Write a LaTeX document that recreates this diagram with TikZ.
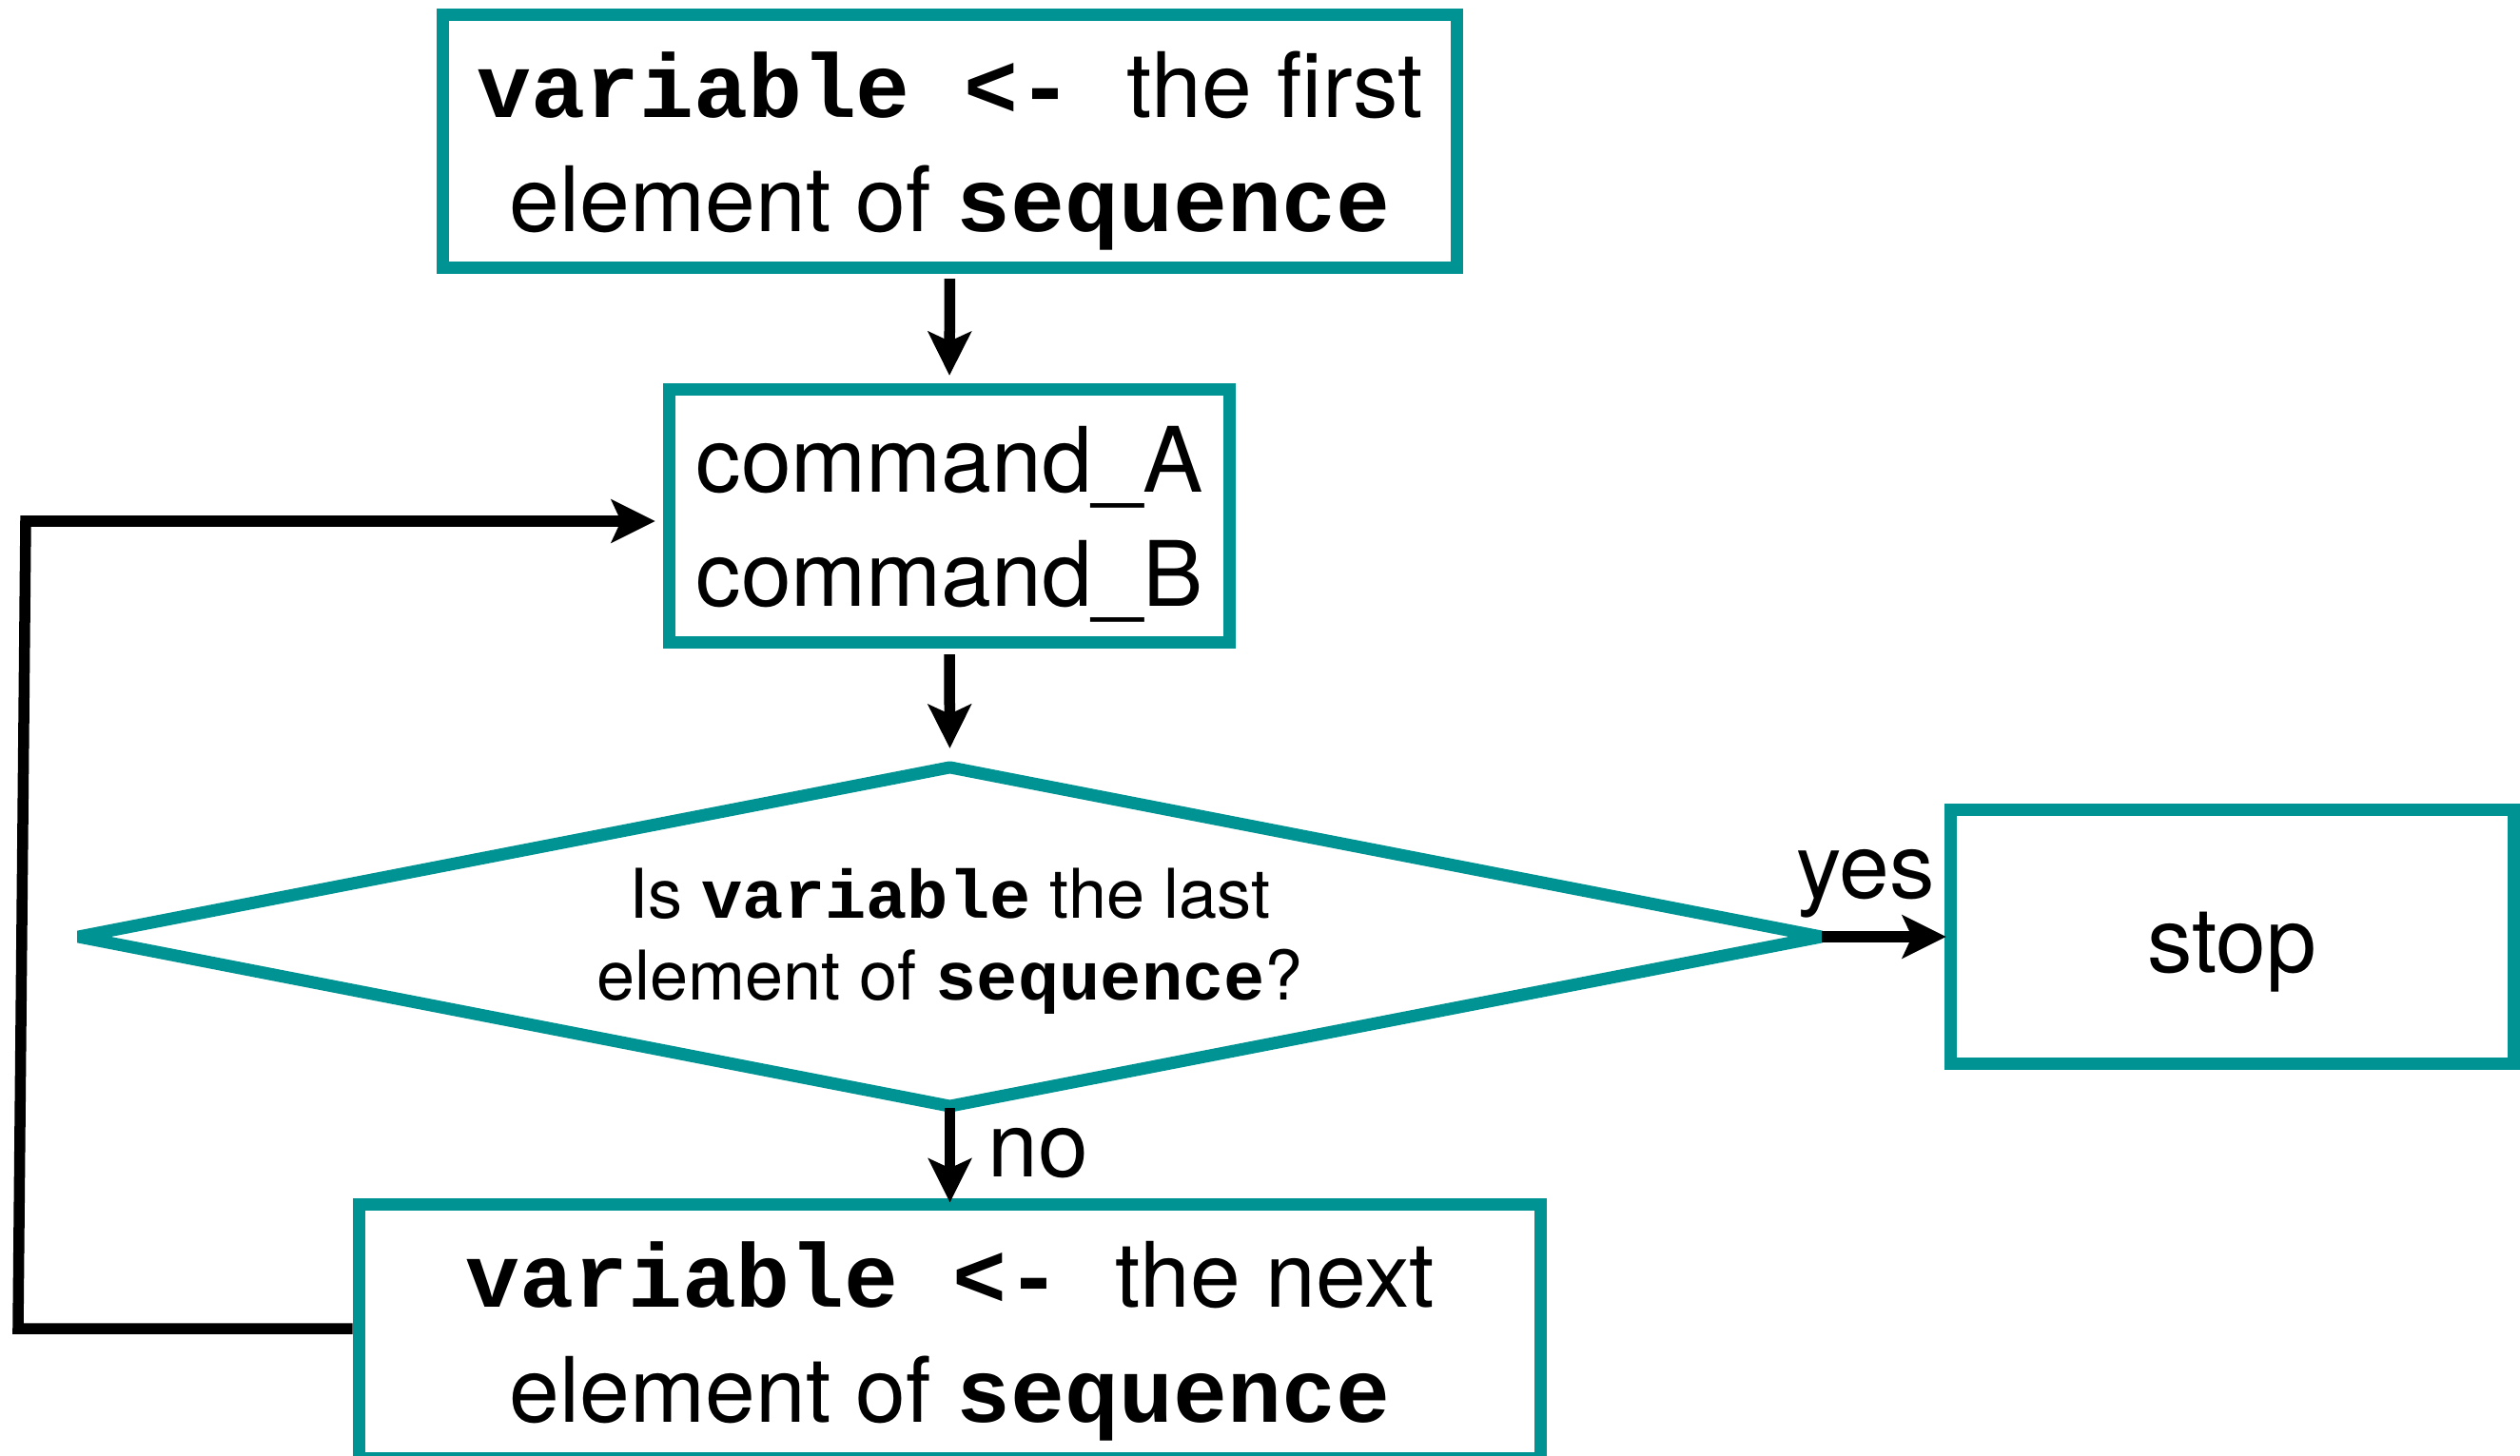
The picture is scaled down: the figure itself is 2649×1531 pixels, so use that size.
\documentclass[tikz,border=0pt]{standalone}
\usepackage{fontspec}
\setmainfont{TeX Gyre Heros}
\setmonofont{Liberation Mono}
\usetikzlibrary{arrows.meta,shapes.geometric}
\definecolor{flowteal}{RGB}{0,147,147}
% bold code words inside the flowchart text
\newcommand{\kw}[1]{{\ttfamily\bfseries #1}}
% struts that fix the vertical placement of two-line texts
\newcommand{\topline}{\rule{0pt}{1cm}}
\newcommand{\botline}{\rule[-0.3cm]{0pt}{0.3cm}}

\begin{document}
\begin{tikzpicture}[x=0.01cm,y=-0.01cm,
  box/.style={rectangle, draw=flowteal, line width=0.13cm, fill=white,
    inner sep=0pt, outer sep=0.065cm, minimum height=2.66cm, align=center,
    font=\fontsize{27pt}{1.2cm}\selectfont},
  decision/.style={diamond, draw=flowteal, line width=0.13cm, fill=white,
    line join=bevel, inner sep=0pt, outer sep=0pt, aspect=5,
    minimum width=18.31cm, minimum height=3.56cm, align=center,
    font=\fontsize{20.5pt}{0.85cm}\selectfont},
  flow/.style={line width=0.115cm, line join=miter,
    -{Stealth[length=0.46cm,width=0.45cm,inset=0.1cm]}},
  lbl/.style={inner sep=0pt, font=\fontsize{27pt}{1.2cm}\selectfont}]

\useasboundingbox (0,0) rectangle (2649,1531);

% process boxes
\node[box, minimum width=10.66cm] (first) at (998.5,148.5)
  {\topline\kw{variable <- }the first\\element of \kw{sequence}\botline};
\node[box, minimum width=5.89cm] (cmd) at (998,542.5)
  {\topline command\_A\\command\_B\botline};
\node[decision] (test) at (998.5,985)
  {\rule{0pt}{0.72cm}Is \kw{variable} the last\\element of \kw{sequence}?\rule[-0.25cm]{0pt}{0.25cm}};
\node[box, minimum width=5.92cm] (stop) at (2346.5,985)
  {\rule[-0.26cm]{0pt}{1.26cm}stop};
\node[box, minimum width=12.42cm] (next) at (998.5,1400)
  {\topline\kw{variable <- }the next\\element of \kw{sequence}\botline};

% corners of the loop back to the commands
\coordinate (loopbl) at (19,1397);
\coordinate (looptl) at (27,548);

% connectors
\draw[flow, shorten <=0.05cm, shorten >=0.08cm] (first.south) -- (cmd.north);
\draw[flow, shorten <=0.06cm, shorten >=0.2cm] (cmd.south) -- (test.north);
\draw[flow, shorten <=0.02cm, shorten >=-0.04cm] (test.south) -- (next.north);
\draw[flow, shorten >=-0.02cm] (test.east) -- (stop.west);
\draw[flow, shorten >=0.08cm] (next.west |- loopbl) -- (loopbl) -- (looptl) -- (looptl -| cmd.west);

% branch labels
\node[lbl, anchor=base] (yeslbl) at (1961,944) {yes};
\node[lbl, anchor=base west] (nolbl) at (1038,1237) {no};

\end{tikzpicture}
\end{document}
